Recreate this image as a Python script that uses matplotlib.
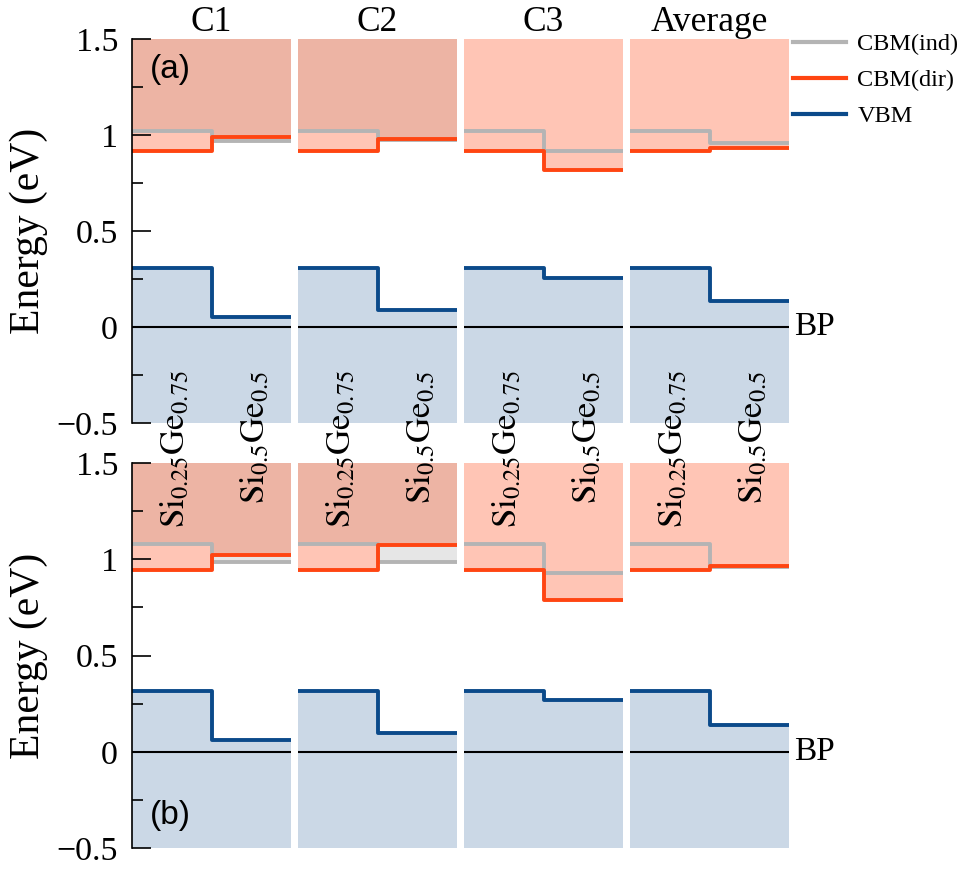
import numpy as np
import matplotlib
matplotlib.use("Agg")
from matplotlib import pyplot as plt
from matplotlib.lines import Line2D
from matplotlib.ticker import MultipleLocator, FuncFormatter

plt.rcParams['font.family'] = ['Liberation Serif', 'DejaVu Serif']
plt.rcParams['mathtext.fontset'] = 'stix'

# configurations (one panel each)
configs = ['C1', 'C2', 'C3', 'Average']
alloys = [r'$\mathrm{Si}_{0.25}\mathrm{Ge}_{0.75}$', r'$\mathrm{Si}_{0.5}\mathrm{Ge}_{0.5}$']

# band edges in eV, [Si0.25Ge0.75, Si0.5Ge0.5] for each configuration
# (a)
cbm_ind_a = [[1.02, 0.967], [1.02, 0.975], [1.02, 0.918], [1.02, 0.957]]
cbm_dir_a = [[0.918, 0.99], [0.918, 0.977], [0.918, 0.82], [0.918, 0.93]]
vbm_a = [[0.305, 0.052], [0.305, 0.089], [0.305, 0.255], [0.305, 0.135]]
# (b)
cbm_ind_b = [[1.078, 0.986], [1.078, 0.986], [1.078, 0.93], [1.078, 0.96]]
cbm_dir_b = [[0.946, 1.021], [0.946, 1.073], [0.946, 0.79], [0.946, 0.965]]
vbm_b = [[0.315, 0.063], [0.315, 0.097], [0.315, 0.268], [0.315, 0.14]]

# the indirect CBM region is shaded only in these panels
shade_ind = [True, True, False, False]

rows = [('(a)', 1.34, cbm_ind_a, cbm_dir_a, vbm_a),
        ('(b)', -0.33, cbm_ind_b, cbm_dir_b, vbm_b)]

c_gray = '#b4b4b4'
c_orange = '#ff4512'
c_blue = '#0b4a8a'

W, H = 964, 869
fig = plt.figure(figsize=(W / 100, H / 100), dpi=100)

row_box = [(39, 423), (463, 848)]  # top/bottom in pixels
xs = np.array([0, 1, 2])

fmt = FuncFormatter(lambda v, _: ('%g' % v).replace('-', '\u2212'))

for r, (tag, tag_y, ind, dr, vb) in enumerate(rows):
    top, bot = row_box[r]
    for i, name in enumerate(configs):
        left = 132 + 166 * i
        ax = fig.add_axes([left / W, 1 - bot / H, 159 / W, (bot - top) / H])
        ax.set_xlim(0, 2)
        ax.set_ylim(-0.5, 1.5)

        yi = [ind[i][0], ind[i][1], ind[i][1]]
        yd = [dr[i][0], dr[i][1], dr[i][1]]
        yv = [vb[i][0], vb[i][1], vb[i][1]]

        ax.fill_between(xs, -0.5, yv, step='post', color=c_blue, alpha=0.21, lw=0)
        if shade_ind[i]:
            ax.fill_between(xs, yi, 1.5, step='post', color=c_gray, alpha=0.33, lw=0)
        ax.plot(xs, yi, drawstyle='steps-post', color=c_gray, lw=2.8)
        ax.fill_between(xs, yd, 1.5, step='post', color=c_orange, alpha=0.31, lw=0)
        ax.plot(xs, yd, drawstyle='steps-post', color=c_orange, lw=2.8)
        ax.plot(xs, yv, drawstyle='steps-post', color=c_blue, lw=2.8)
        ax.axhline(0, color='black', lw=1.5)

        for s in ['top', 'right', 'bottom']:
            ax.spines[s].set_visible(False)
        ax.set_xticks([])
        if i == 0:
            ax.spines['left'].set_linewidth(1.2)
            ax.yaxis.set_major_locator(MultipleLocator(0.5))
            ax.yaxis.set_minor_locator(MultipleLocator(0.25))
            ax.yaxis.set_major_formatter(fmt)
            ax.tick_params(axis='y', which='major', direction='in', length=14, width=1.2,
                           labelsize=24.5, pad=10)
            ax.tick_params(axis='y', which='minor', direction='in', length=8, width=1.2)
            ax.set_ylabel('Energy (eV)', fontsize=30, labelpad=6)
            ax.text(0.22, tag_y, tag, fontsize=24, family='Liberation Sans', va='center')
        else:
            ax.spines['left'].set_visible(False)
            ax.set_yticks([])

        if r == 0:
            ax.set_title(name, fontsize=25.5, pad=2)
            for k, lab in enumerate(alloys):
                fig.text(0.55 + k, -0.225, lab, transform=ax.transData, rotation=90,
                         ha='center', va='top', fontsize=25, zorder=10)
        if i == len(configs) - 1:
            ax.text(2.06, 0, 'BP', fontsize=24, va='center', ha='left', clip_on=False)

handles = [Line2D([], [], color=c_gray, lw=3),
           Line2D([], [], color=c_orange, lw=3),
           Line2D([], [], color=c_blue, lw=3)]
fig.legend(handles, ['CBM(ind)', 'CBM(dir)', 'VBM'], loc='upper left',
           bbox_to_anchor=(793 / W, 1 - 33 / H), frameon=False, fontsize=17.5,
           borderpad=0, borderaxespad=0,
           handlelength=2.2, handletextpad=0.45, labelspacing=0.58)

fig.savefig('out.png', dpi=100)
